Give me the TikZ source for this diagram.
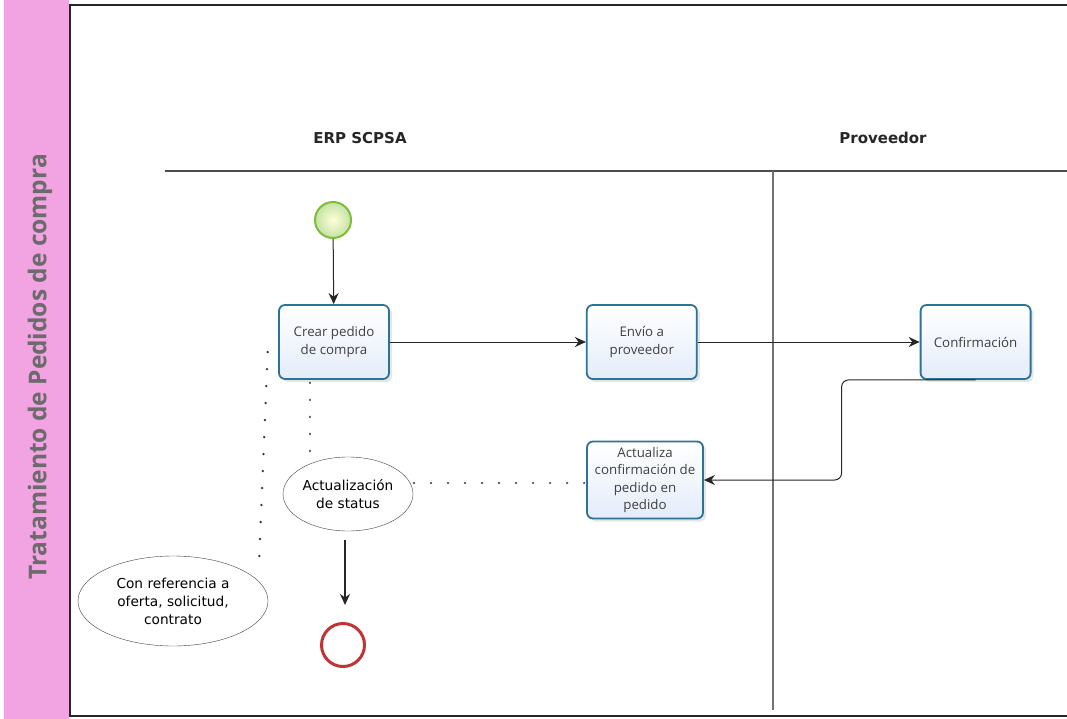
\documentclass[tikz,border=0pt]{standalone}
\usepackage{fontspec}
\setmainfont{Open Sans}
\newfontfamily\verdfont{DejaVu Sans}
\usetikzlibrary{positioning,calc,arrows.meta,shadows,shapes.geometric}

\definecolor{lanepink}{RGB}{241,163,226}
\definecolor{taskblue}{RGB}{44,116,150}
\definecolor{taskfill}{RGB}{228,236,250}
\definecolor{startgreen}{RGB}{125,190,55}
\definecolor{endred}{RGB}{192,52,52}
\definecolor{txtgray}{RGB}{64,64,64}

\begin{document}
\begin{tikzpicture}[x=1pt,y=-1pt,
      task/.style = {draw=taskblue, line width=1.8pt, rounded corners=6pt,
         top color=white, bottom color=taskfill, align=center,
         minimum width=110pt, minimum height=74pt, inner sep=2pt,
         text=txtgray, font=\fontsize{13.3}{17.5}\selectfont,
         drop shadow={shadow xshift=3pt, shadow yshift=-3pt, opacity=0.2}},
      note/.style = {ellipse, draw=black!75, thin, fill=white, align=center,
         inner sep=0pt, font=\verdfont\fontsize{13.7}{18}\selectfont},
      flow/.style = {draw=black!85, line width=1pt,
         -{Stealth[length=11pt,width=10pt]}},
      assoc/.style = {draw=black!80, line width=2.6pt, line cap=round,
         dash pattern=on 0.01pt off 17pt},
      lane/.style = {draw=black!70, line width=1.4pt},
      header/.style = {font=\verdfont\bfseries\fontsize{15}{18}\selectfont, text=black!85}
   ]
   \useasboundingbox (0,0) rectangle (1067,719);

   % pool and lanes
   \fill[lanepink] (4,0) rectangle (69,719);
   \draw[draw=black!85, line width=2pt] (1067,5) -- (70,5) -- (70,716) -- (1067,716);
   \node[rotate=90, text=black!58, font=\bfseries\fontsize{24.5}{28}\selectfont]
      (pool) at (40,367) {Tratamiento de Pedidos de compra};

   \node[header] (erp)  at (360,138) {ERP SCPSA};
   \node[header] (prov) at (883,138) {Proveedor};
   \draw[lane] (165,171) -- (1067,171);
   \draw[lane, draw=black!55] (773,171) -- (773,710);

   % events
   \node[circle, minimum size=36pt, draw=startgreen, line width=2pt,
      inner color=white!85!yellow, outer color=startgreen!45] (start) at (333,220) {};
   \node[circle, minimum size=43pt, draw=endred, line width=3pt, fill=white]
      (finish) at (343,645) {};

   % tasks
   \node[task] (crear) at (334,342) {Crear pedido\\de compra};
   \node[task, right=196pt of crear] (envio) {Envío a\\proveedor};
   \node[task, right=222pt of envio] (conf) {Confirmación};
   \node[task, minimum width=116pt, minimum height=77pt] (actual) at (645,480)
      {Actualiza\\confirmación de\\pedido en\\pedido};

   % annotations
   \node[note, minimum width=130pt, minimum height=74pt] (status) at (348,494)
      {Actualización\\de status};
   \node[note, minimum width=190pt, minimum height=90pt] (refer) at (173,601)
      {Con referencia a\\oferta, solicitud,\\contrato};

   % sequence flows
   \draw[flow] (start) -- (crear);
   \draw[flow] (crear) -- (envio);
   \draw[flow] (envio) -- (conf);
   \draw[flow, rounded corners=7pt] (conf.south) -- ++(-134,0) |- (actual.east);
   \draw[flow, line width=2pt, shorten <=9pt, shorten >=17pt]
      (status.south -| 345,0) -- (finish.north -| 345,0);

   % associations
   \draw[assoc] ($(actual.west)+(-2,3)$) -- ($(status.east)+(-1,-11)$);
   \draw[assoc] ($(crear.south west)+(32,3)$) -- ++(0,69);
   \draw[assoc] ($(refer.north east)+(19,-13)$) -- ($(crear.west)+(-10,0)$);
\end{tikzpicture}
\end{document}
